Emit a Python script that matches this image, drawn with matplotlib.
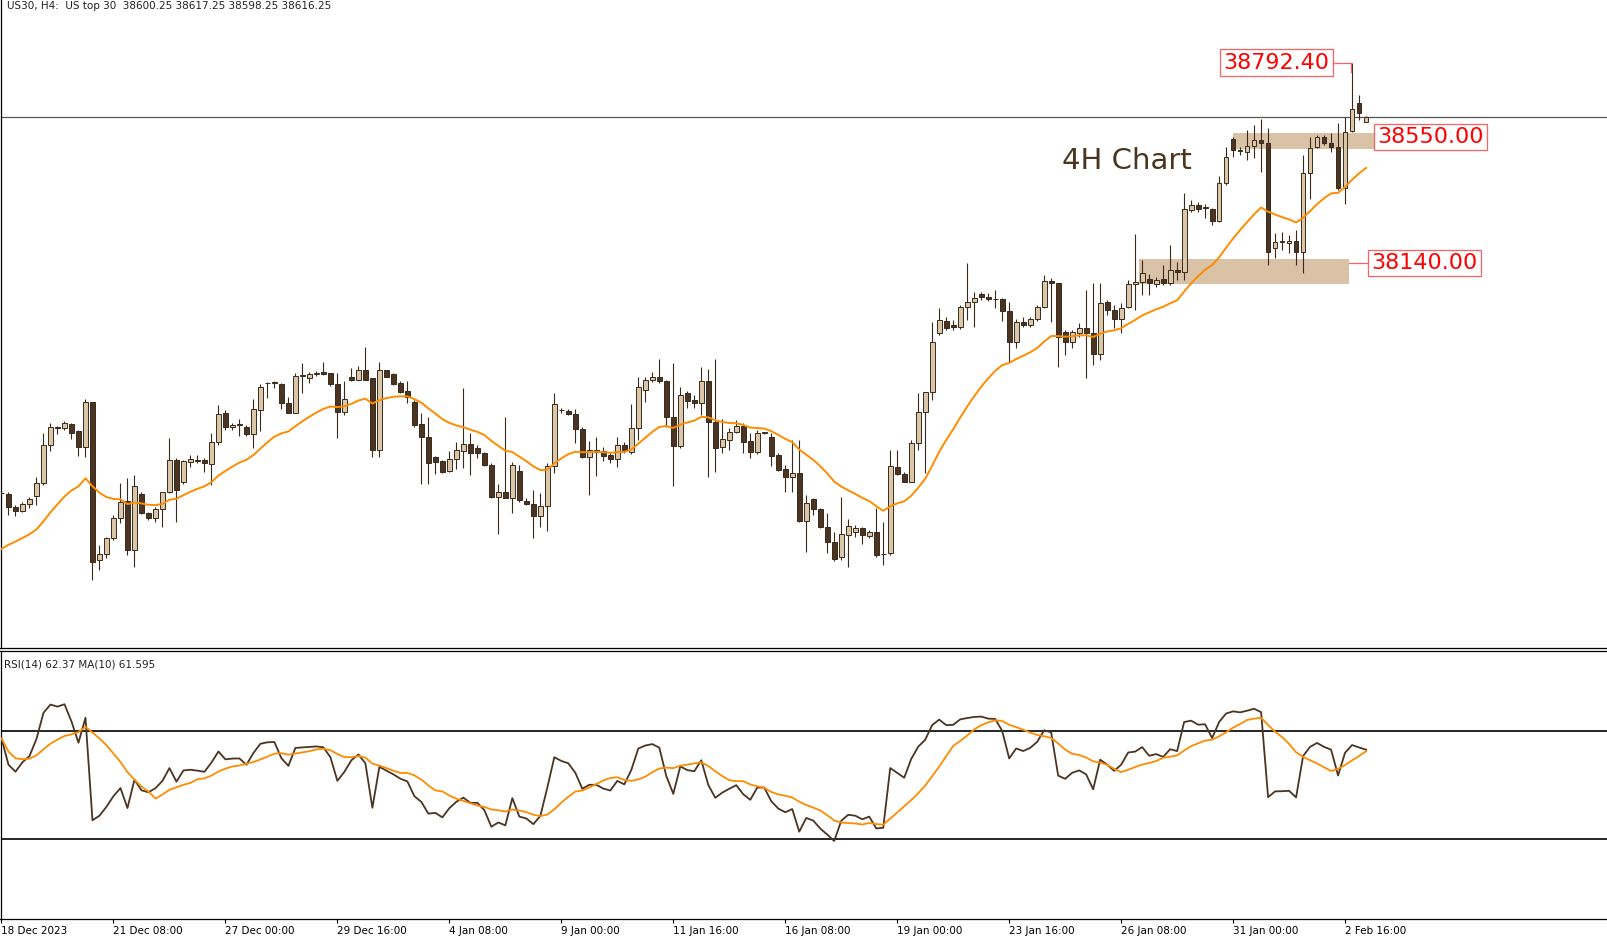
import numpy as np
import pandas as pd
import matplotlib
matplotlib.use("Agg")
import matplotlib.pyplot as plt
from matplotlib.patches import Rectangle

# OHLC rows (H4 bars)
ohlc = [
(37393,37402,37382,37390),(37389,37395,37320,37346),(37346,37353,37317,37333),(37333,37362,37330,37356),
(37356,37379,37343,37372),(37382,37444,37353,37424),(37424,37587,37418,37548),(37548,37620,37528,37607),
(37607,37610,37584,37603),(37603,37626,37597,37620),(37616,37620,37568,37587),(37594,37597,37512,37541),
(37541,37698,37509,37688),(37688,37688,37109,37167),(37174,37223,37141,37193),(37193,37249,37180,37245),
(37245,37320,37239,37310),(37310,37424,37294,37362),(37366,37441,37190,37206),(37206,37450,37151,37415),
(37389,37395,37323,37327),(37327,37330,37304,37310),(37310,37346,37297,37340),(37340,37395,37281,37395),
(37395,37571,37392,37499),(37499,37506,37297,37402),(37428,37499,37421,37496),(37493,37515,37476,37502),
(37499,37515,37489,37496),(37499,37506,37460,37489),(37486,37587,37418,37558),(37558,37678,37548,37649),
(37652,37662,37597,37607),(37607,37620,37597,37613),(37613,37633,37577,37614),(37607,37613,37577,37584),
(37584,37698,37538,37665),(37662,37746,37594,37737),(37750,37752,37701,37749),(37750,37756,37734,37751),
(37746,37750,37665,37685),(37685,37704,37652,37652),(37652,37782,37652,37772),(37772,37815,37717,37776),
(37766,37786,37750,37779),(37779,37789,37772,37782),(37786,37818,37776,37779),(37782,37782,37740,37746),
(37746,37782,37571,37655),(37655,37756,37646,37698),(37769,37799,37756,37759),(37759,37805,37759,37792),
(37792,37867,37759,37759),(37766,37766,37509,37532),(37532,37818,37509,37792),(37792,37792,37769,37769),
(37779,37782,37743,37746),(37750,37756,37717,37720),(37724,37756,37685,37704),(37688,37694,37607,37613),
(37616,37652,37421,37574),(37574,37639,37421,37489),(37509,37512,37454,37493),(37496,37499,37457,37460),
(37463,37528,37460,37502),(37502,37558,37470,37532),(37528,37733,37473,37551),(37551,37587,37450,37522),
(37538,37548,37506,37522),(37522,37525,37480,37483),(37483,37489,37376,37379),(37379,37421,37258,37395),
(37395,37639,37376,37376),(37376,37493,37327,37483),(37463,37483,37363,37369),(37366,37376,37353,37356),
(37356,37402,37245,37317),(37317,37392,37281,37349),(37349,37489,37268,37480),(37480,37717,37457,37681),
(37662,37668,37652,37661),(37659,37665,37646,37649),(37649,37665,37554,37600),(37600,37607,37506,37509),
(37509,37561,37385,37532),(37525,37574,37447,37532),(37528,37541,37496,37512),(37515,37522,37489,37502),
(37502,37574,37476,37548),(37548,37558,37522,37532),(37525,37681,37519,37603),(37603,37769,37564,37737),
(37727,37769,37688,37759),(37759,37786,37753,37769),(37769,37828,37750,37756),(37756,37759,37607,37639),
(37639,37815,37415,37545),(37545,37737,37538,37711),(37717,37724,37668,37691),(37694,37711,37668,37685),
(37685,37802,37646,37756),(37756,37795,37444,37623),(37623,37828,37460,37538),(37541,37633,37522,37568),
(37564,37603,37532,37590),(37590,37630,37587,37610),(37610,37620,37522,37558),(37561,37587,37506,37525),
(37525,37597,37519,37587),(37587,37589,37584,37587),(37574,37587,37480,37512),(37515,37522,37463,37467),
(37470,37483,37395,37444),(37444,37564,37395,37457),(37457,37564,37297,37301),(37301,37385,37200,37359),
(37372,37376,37320,37340),(37340,37343,37278,37281),(37281,37327,37197,37232),(37232,37265,37171,37177),
(37183,37379,37174,37258),(37255,37307,37151,37284),(37265,37288,37249,37278),(37278,37281,37226,37255),
(37252,37271,37245,37265),(37265,37343,37184,37190),(37193,37297,37158,37192),(37197,37532,37190,37480),
(37476,37532,37450,37454),(37454,37460,37428,37428),(37428,37564,37428,37554),(37554,37717,37532,37655),
(37655,37720,37457,37720),(37720,37948,37694,37883),(37912,37994,37906,37955),(37951,37964,37922,37929),
(37938,37955,37922,37932),(37932,38004,37925,37997),(37997,38140,37955,38013),(38013,38046,37932,38026),
(38039,38046,38020,38030),(38030,38043,38017,38023),(38023,38052,37994,38022),(38023,38026,37951,37984),
(37984,38013,37818,37883),(37883,37958,37864,37948),(37948,37964,37932,37938),(37938,37964,37932,37958),
(37958,38004,37951,37997),(37997,38101,37994,38082),(38082,38091,37948,38075),(38075,38075,37802,37899),
(37916,37922,37841,37883),(37883,37922,37864,37916),(37912,37945,37899,37929),(37929,38052,37766,37912),
(37912,38075,37808,37844),(37844,38075,37825,38010),(38013,38020,37971,37987),(37987,38004,37929,37958),
(37958,38010,37912,37994),(37997,38085,37994,38072),(38072,38235,37987,38078),(38078,38150,38036,38108),
(38088,38104,38036,38075),(38072,38095,38062,38085),(38088,38134,38069,38075),(38075,38199,38069,38117),
(38117,38143,38085,38111),(38111,38368,38085,38316),(38313,38345,38306,38329),(38329,38339,38306,38316),
(38322,38332,38287,38319),(38316,38319,38264,38277),(38277,38423,38274,38401),(38401,38518,38394,38485),
(38544,38550,38485,38508),(38508,38518,38492,38505),(38501,38573,38475,38521),(38521,38589,38482,38540),
(38540,38609,38436,38531),(38531,38579,38134,38176),(38189,38238,38156,38209),(38209,38241,38183,38210),
(38205,38231,38173,38212),(38212,38248,38134,38176),(38176,38492,38108,38433),(38433,38550,38348,38514),
(38518,38557,38514,38550),(38550,38557,38524,38531),(38531,38563,38501,38518),(38518,38596,38378,38384),
(38384,38615,38332,38566),(38570,38792.4,38566,38641),(38661,38687,38605,38628),(38600.25,38617.25,38598.25,38616.25),
]
opens = np.array([r[0] for r in ohlc]); highs = np.array([r[1] for r in ohlc])
lows = np.array([r[2] for r in ohlc]); closes = np.array([r[3] for r in ohlc])

date_labels = ["18 Dec 2023", "21 Dec 08:00", "27 Dec 00:00", "29 Dec 16:00", "4 Jan 08:00",
               "9 Jan 00:00", "11 Jan 16:00", "16 Jan 08:00", "19 Jan 00:00", "23 Jan 16:00",
               "26 Jan 08:00", "31 Jan 00:00", "2 Feb 16:00"]
date_label_bars = [0, 16, 32, 48, 64, 80, 96, 112, 128, 144, 160, 176, 192]

ma_seed = 37210          # MA value at the first visible bar
rsi_seed_gain, rsi_seed_loss = 14.0, 7.0
levels = [38792.40, 38550.00, 38140.00]
zone_upper = (38511, 38563, 176, 196.6)
zone_lower = (38072, 38153, 162.6, 192.6)
current_price = 38616.25

# indicators
ma = [ma_seed]
alpha = 2 / 21
for c in closes[1:]:
    ma.append(ma[-1] + alpha * (c - ma[-1]))
ma = np.array(ma)
diff = np.diff(closes, prepend=closes[0] - 5)
ag, al = rsi_seed_gain, rsi_seed_loss
rsi = []
for d in diff:
    ag = (ag * 13 + max(d, 0)) / 14
    al = (al * 13 + max(-d, 0)) / 14
    rsi.append(100 - 100 / (1 + ag / al))
rsi = np.array(rsi)
rsi_ma = pd.Series(rsi).rolling(10, min_periods=1).mean().values

W, H = 1607, 938
fig = plt.figure(figsize=(W / 100, H / 100), dpi=100)
ax = fig.add_axes([0.5 / W, 1 - 648 / H, 1 - 0.5 / W, 648 / H])
ax2 = fig.add_axes([0.5 / W, 1 - 919 / H, 1 - 0.5 / W, 268 / H])

x = np.arange(len(closes))
bull = closes >= opens
dark = "#4b3421"
tan = "#dcc6a8"
ax.vlines(x, lows, highs, color="#3a2a1c", lw=0.8, zorder=2)
body_h = np.abs(closes - opens)
body_h = np.where(body_h < 2, 2, body_h)
ax.bar(x, body_h, bottom=np.minimum(opens, closes), width=0.68,
       color=np.where(bull, tan, dark), edgecolor="#3a2a1c", linewidth=0.7, zorder=3)
ax.plot(x, ma, color="#ff8c00", lw=1.4, zorder=4)

for lo, hi, x0, x1 in [zone_upper, zone_lower]:
    ax.add_patch(Rectangle((x0, lo), x1 - x0, hi - lo, facecolor="#d9c2a6", edgecolor="none", zorder=1))
ax.axhline(current_price, color="#555555", lw=0.9, zorder=1)

red = "#ff0000"
# level labels
ax.plot([185.3, 192.8], [levels[0], levels[0]], color="#ff6060", lw=0.9)
ax.plot([192.8, 192.8], [levels[0], levels[0] - 30], color="#ff6060", lw=0.9)
ax.text(182.2, levels[0], f"{levels[0]:.2f}", color=red, fontsize=16, va="center", ha="center",
        bbox=dict(boxstyle="square,pad=0.15", fc="white", ec="#ff6060", lw=0.9), zorder=6)
ax.plot([196.6, 197.1], [levels[1], levels[1]], color="#ff6060", lw=0.9)
ax.text(204.2, levels[1], f"{levels[1]:.2f}", color=red, fontsize=16, va="center", ha="center",
        bbox=dict(boxstyle="square,pad=0.15", fc="white", ec="#ff6060", lw=0.9), zorder=6)
ax.plot([192.6, 196.3], [levels[2], levels[2]], color="#ff6060", lw=0.9)
ax.text(203.4, levels[2], f"{levels[2]:.2f}", color=red, fontsize=16, va="center", ha="center",
        bbox=dict(boxstyle="square,pad=0.15", fc="white", ec="#ff6060", lw=0.9), zorder=6)

ax.text(151.5, 38472, "4H Chart", color="#4a3520", fontsize=21, ha="left", va="center")
ax.text(0.004, 0.998, "US30, H4:  US top 30  38600.25 38617.25 38598.25 38616.25",
        transform=ax.transAxes, fontsize=7.5, va="top", ha="left", color="#222222")

xlim = (-1 / 7, 1606 / 7)
ax.set_xlim(*xlim)
ax.set_ylim(36887, 38996)
ax.set_xticks([]); ax.set_yticks([])
for s in ["top", "right"]:
    ax.spines[s].set_visible(False)
ax.spines["left"].set_linewidth(0.9); ax.spines["bottom"].set_linewidth(0.9)

ax2.plot(x, rsi, color="#4b3421", lw=1.3, zorder=3)
ax2.plot(x, rsi_ma, color="#ff8c00", lw=1.3, zorder=4)
ax2.axhline(70, color="black", lw=1.2)
ax2.axhline(30, color="black", lw=1.2)
ax2.set_xlim(*xlim)
ax2.set_ylim(0.4, 99.6)
ax2.set_yticks([])
ax2.set_xticks(date_label_bars)
ax2.set_xticklabels(date_labels, fontsize=7.5, ha="left")
ax2.tick_params(axis="x", length=3, pad=2)
for s in ["right"]:
    ax2.spines[s].set_visible(False)
for s in ["top", "left", "bottom"]:
    ax2.spines[s].set_linewidth(0.9)
ax2.text(0.002, 0.97, "RSI(14) 62.37 MA(10) 61.595", transform=ax2.transAxes,
         fontsize=7.5, va="top", ha="left", color="#222222")

fig.savefig("out.png", dpi=100)
